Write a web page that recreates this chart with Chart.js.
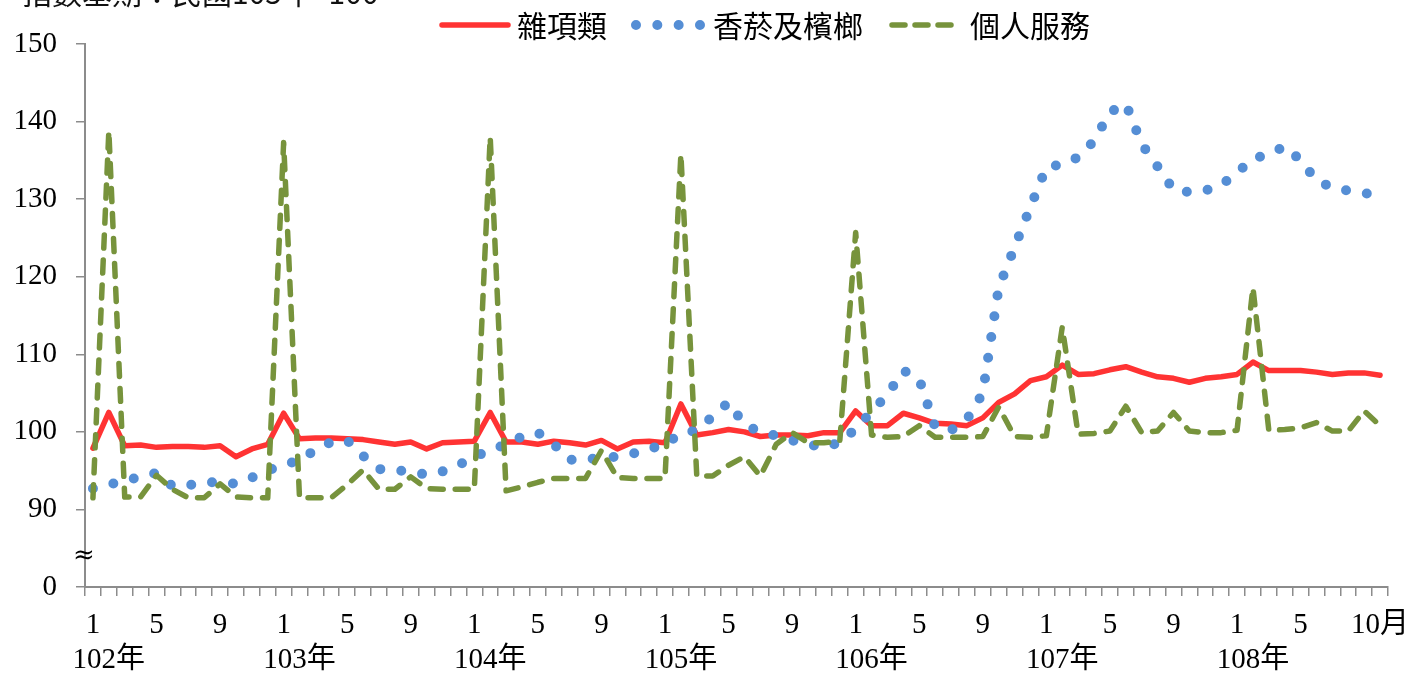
<!DOCTYPE html>
<html lang="zh-Hant">
<head>
<meta charset="utf-8">
<title>雜項類、香菸及檳榔、個人服務 指數</title>
<script src="https://cdn.jsdelivr.net/npm/chart.js@4.4.1/dist/chart.umd.min.js"></script>
<style>
  html, body { margin: 0; padding: 0; background: #fff; }
  canvas { display: block; }
</style>
</head>
<body>
<canvas id="chart" width="1425" height="677"></canvas>
<script>
// categories: ROC years and how many months each year covers
const years = ['102年', '103年', '104年', '105年', '106年', '107年', '108年'];
const monthsPerYear = [12, 12, 12, 12, 12, 12, 10];

// y ticks (80 sits just below the axis break and is shown as 0)
const yTicks = [80, 90, 100, 110, 120, 130, 140, 150];
const yTickLabels = ['0', '90', '100', '110', '120', '130', '140', '150'];
const labeledMonths = [1, 5, 9];
const lastTickLabel = '10月';

const seriesNames = ['雜項類', '香菸及檳榔', '個人服務'];

// 雜項類
const miscValues = [
  97.9, 102.5, 98.2, 98.3, 98.0, 98.1, 98.1, 98.0, 98.2, 96.8, 97.8, 98.4,
  102.4, 99.1, 99.2, 99.2, 99.1, 99.0, 98.7, 98.4, 98.7, 97.8, 98.6, 98.7,
  98.8, 102.5, 98.7, 98.7, 98.4, 98.8, 98.6, 98.3, 98.9, 97.8, 98.7, 98.8,
  98.6, 103.6, 99.6, 99.9, 100.3, 100.0, 99.4, 99.6, 99.6, 99.5, 99.9, 99.9,
  102.7, 100.8, 100.8, 102.4, 101.8, 101.1, 101.0, 100.8, 101.8, 103.8, 104.9, 106.6,
  107.1, 108.6, 107.4, 107.5, 108.0, 108.4, 107.7, 107.1, 106.9, 106.4, 106.9, 107.1,
  107.4, 109.0, 107.9, 107.9, 107.9, 107.7, 107.4, 107.6, 107.6, 107.3
];

// 香菸及檳榔
const tobaccoValues = [
  92.7, 93.2, 93.7, 94.2, 94.7, 93.0, 93.1, 93.5, 93.5, 93.3, 94.1, 95.0,
  95.8, 96.3, 97.7, 98.7, 98.9, 96.9, 95.2, 95.1, 94.8, 94.5, 94.9, 95.7,
  96.8, 97.6, 98.4, 99.4, 99.9, 98.4, 96.4, 96.5, 96.6, 96.8, 97.2, 97.8,
  98.4, 99.8, 100.2, 102.0, 103.8, 100.9, 100.0, 99.5, 98.9, 98.4, 98.0, 98.6,
  100.4, 102.6, 104.8, 107.9, 106.8, 100.6, 100.2, 101.6, 105.0, 118.6, 123.8, 129.0,
  134.1, 134.5, 135.4, 137.5, 141.2, 142.3, 137.1, 134.2, 131.2, 130.9, 131.1, 131.8,
  133.4, 135.2, 135.8, 136.8, 135.0, 132.4, 131.5, 131.1, 130.8, 130.4
];

// 個人服務
const serviceValues = [
  91.5, 138.8, 91.6, 91.6, 94.4, 92.6, 91.5, 91.5, 93.3, 91.6, 91.5, 91.5,
  137.3, 91.5, 91.5, 91.5, 93.2, 95.1, 92.6, 92.6, 94.2, 92.7, 92.6, 92.6,
  92.6, 138.0, 92.4, 92.9, 93.5, 94.0, 94.0, 94.0, 97.6, 94.1, 94.0, 94.0,
  94.0, 135.8, 94.3, 94.3, 95.7, 96.8, 94.3, 98.4, 99.9, 98.6, 98.6, 98.8,
  125.7, 99.6, 99.3, 99.4, 100.8, 99.3, 99.3, 99.3, 99.4, 103.2, 99.4, 99.3,
  99.5, 113.5, 99.7, 99.8, 100.1, 103.3, 99.9, 100.1, 102.5, 100.1, 99.9, 99.9,
  100.2, 118.6, 100.2, 100.3, 100.5, 101.2, 100.1, 100.1, 102.7, 100.8
];

// build the month categories from the year list
const categories = [];
const monthOf = [];
const yearOf = [];
years.forEach((y, yi) => {
  for (let m = 1; m <= monthsPerYear[yi]; m++) {
    categories.push(y + m + '月');
    monthOf.push(m);
    yearOf.push(yi);
  }
});

const axisColor = '#8c8c8c';
const tickFont = { family: "'Liberation Serif', 'Times New Roman', 'Noto Sans CJK TC', serif", size: 29, lineHeight: 1.2 };
const cjkFont = '30px "Noto Sans CJK TC", "Noto Sans CJK JP", sans-serif';

function xTickLabel(value, index) {
  const last = categories.length - 1;
  if (index === last) return lastTickLabel;
  // the month just before the end label would collide with it
  if (index >= last - 2) return '';
  const m = monthOf[index];
  if (labeledMonths.includes(m)) return String(m);
  // year name sits on the second line, under February
  if (m === 2) return ['', years[yearOf[index]]];
  return '';
}

// legend, clipped heading and axis-break mark
const decorations = {
  id: 'decorations',
  afterDraw(chart) {
    const ctx = chart.ctx;
    const slots = [
      { x0: 442, x1: 508, textX: 517, dash: null },
      { x0: 636, x1: 700, textX: 713, dash: [0, 21.33] },
      { x0: 892, x1: 952, textX: 970, dash: [13, 10] }
    ];
    const ly = 25;
    chart.data.datasets.forEach((ds, i) => {
      const s = slots[i];
      ctx.save();
      ctx.strokeStyle = ds.borderColor;
      ctx.lineWidth = ds.borderWidth;
      ctx.lineCap = ds.borderCapStyle || 'round';
      ctx.setLineDash(s.dash || ds.borderDash || []);
      ctx.beginPath();
      ctx.moveTo(s.x0, ly);
      ctx.lineTo(s.x1, ly);
      ctx.stroke();
      ctx.restore();

      ctx.save();
      ctx.font = cjkFont;
      ctx.fillStyle = '#000';
      ctx.textBaseline = 'middle';
      ctx.textAlign = 'left';
      ctx.fillText(ds.label, s.textX, ly + 1);
      ctx.restore();
    });

    // heading, mostly cut off by the top edge in the source
    ctx.save();
    ctx.font = cjkFont;
    ctx.fillStyle = '#111';
    ctx.textBaseline = 'alphabetic';
    ctx.fillText('指數基期：民國105年=100', 22, 4);
    ctx.restore();

    // break mark on the y axis
    ctx.save();
    ctx.font = "26px 'DejaVu Serif', 'Liberation Serif', serif";
    ctx.fillStyle = '#000';
    ctx.textAlign = 'center';
    ctx.textBaseline = 'middle';
    ctx.fillText('≈', chart.chartArea.left - 1, 556);
    ctx.restore();
  }
};

new Chart(document.getElementById('chart'), {
  type: 'line',
  data: {
    labels: categories,
    datasets: [
      {
        label: seriesNames[0],
        data: miscValues,
        borderColor: '#ff3333',
        borderWidth: 5.5,
        borderCapStyle: 'round',
        borderJoinStyle: 'round',
        order: 3
      },
      {
        label: seriesNames[1],
        data: tobaccoValues,
        borderColor: '#558ed5',
        borderWidth: 10,
        borderDash: [0, 21],
        borderCapStyle: 'round',
        borderJoinStyle: 'round',
        order: 2
      },
      {
        label: seriesNames[2],
        data: serviceValues,
        borderColor: '#77933c',
        borderWidth: 5.5,
        borderDash: [13, 12],
        borderCapStyle: 'round',
        borderJoinStyle: 'round',
        order: 1
      }
    ]
  },
  options: {
    responsive: false,
    devicePixelRatio: 1,
    animation: false,
    events: [],
    layout: { padding: { top: 44, right: 37, bottom: 0, left: 0 } },
    elements: {
      point: { radius: 0 },
      line: { tension: 0, fill: false }
    },
    plugins: {
      legend: { display: false },
      tooltip: { enabled: false }
    },
    scales: {
      x: {
        offset: true,
        afterFit: (scale) => { scale.height = 90; },
        grid: { offset: true, drawOnChartArea: false, tickLength: 9, color: axisColor, lineWidth: 1.5 },
        border: { color: axisColor, width: 2 },
        ticks: {
          autoSkip: false,
          maxRotation: 0,
          minRotation: 0,
          padding: 12,
          color: '#000',
          font: tickFont,
          callback: xTickLabel
        }
      },
      y: {
        min: 80,
        max: 150,
        afterBuildTicks: (scale) => { scale.ticks = yTicks.map(v => ({ value: v })); },
        afterFit: (scale) => { scale.width = 85; },
        grid: { drawOnChartArea: false, tickLength: 9, color: axisColor, lineWidth: 1.5 },
        border: { color: axisColor, width: 2 },
        ticks: {
          padding: 19,
          color: '#000',
          font: tickFont,
          callback: (v) => yTickLabels[yTicks.indexOf(v)]
        }
      }
    }
  },
  plugins: [decorations]
});
</script>
</body>
</html>
